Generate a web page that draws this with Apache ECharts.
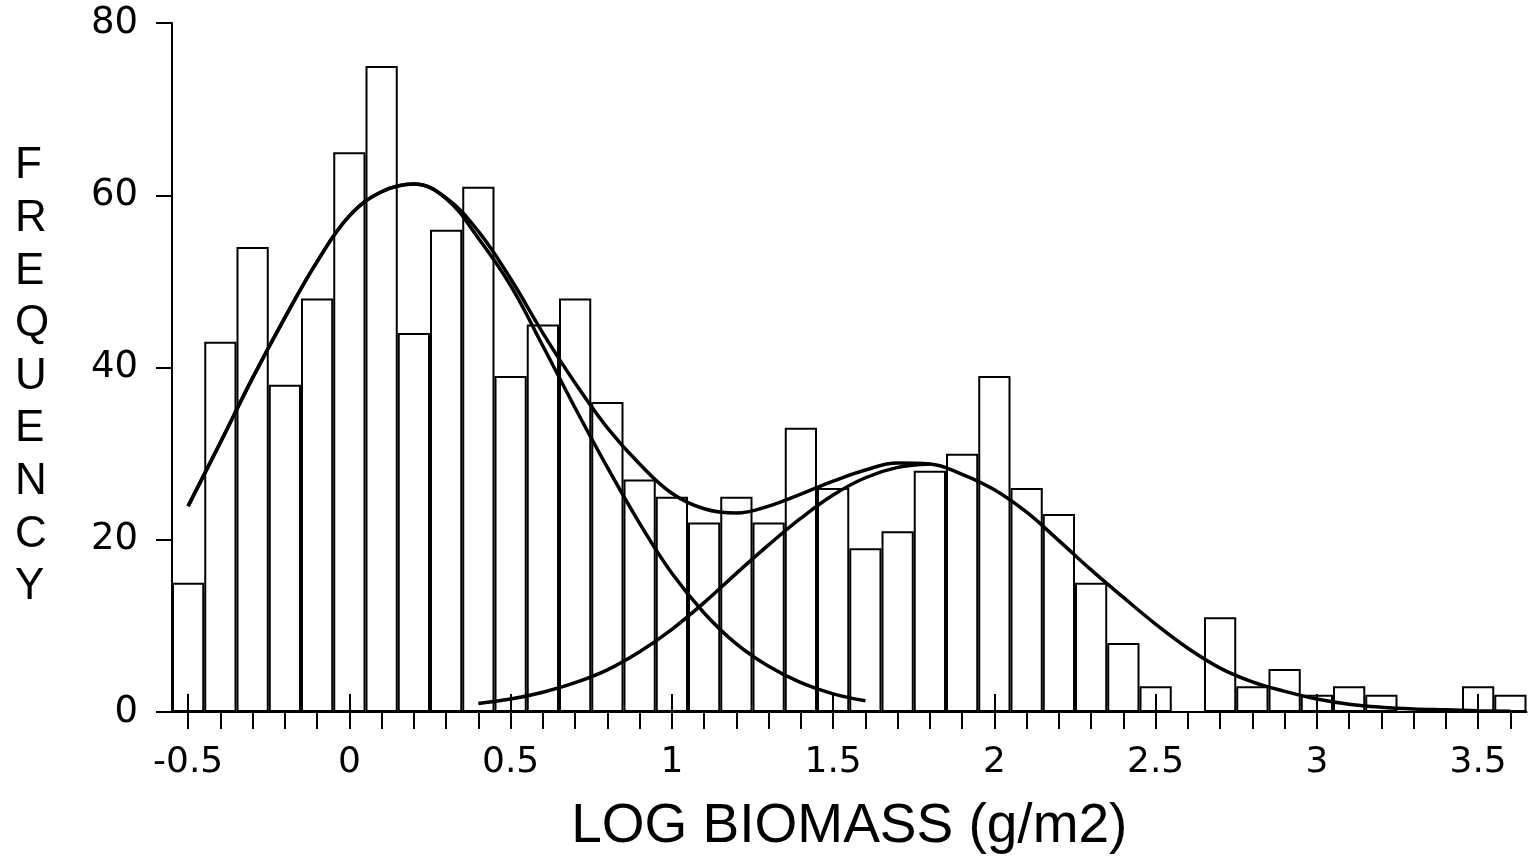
<!DOCTYPE html>
<html>
<head>
	<meta charset="utf-8">
	<title>Log biomass frequency</title>
	<script src="https://cdn.jsdelivr.net/npm/echarts@6/dist/echarts.min.js"></script>
	<style>
		html, body { margin: 0; padding: 0; background: #fff; }
		#chart { width: 1529px; height: 859px; }
	</style>
</head>
<body>
	<div id="chart"></div>
	<script>
		// bin centres of the histogram (log biomass, step 0.1)
		var binCenters = ['-0.5', '-0.4', '-0.3', '-0.2', '-0.1', '0', '0.1', '0.2', '0.3', '0.4',
			'0.5', '0.6', '0.7', '0.8', '0.9', '1', '1.1', '1.2', '1.3', '1.4',
			'1.5', '1.6', '1.7', '1.8', '1.9', '2', '2.1', '2.2', '2.3', '2.4',
			'2.5', '2.6', '2.7', '2.8', '2.9', '3', '3.1', '3.2', '3.3', '3.4', '3.5', '3.6'];
		var counts = [15, 43, 54, 38, 48, 65, 75, 44, 56, 61,
			39, 45, 48, 36, 27, 25, 22, 25, 22, 33,
			26, 19, 21, 28, 30, 39, 26, 23, 15, 8,
			3, 0, 11, 3, 5, 2, 3, 2, 0, 0, 3, 2];

		// fitted curves
		var curveX = [-0.5, -0.4, -0.3, -0.2, -0.1, 0, 0.1, 0.2, 0.3, 0.4,
			0.5, 0.6, 0.7, 0.8, 0.9, 1.0, 1.1, 1.2, 1.3, 1.4,
			1.5, 1.6, 1.7, 1.8, 1.9, 2.0, 2.1, 2.2, 2.3, 2.4,
			2.5, 2.6, 2.7, 2.8, 2.9, 3.0, 3.1, 3.2, 3.3, 3.4, 3.5, 3.6];
		var lowMode = [23.9, 31.3, 38.8, 45.8, 52.3, 57.6, 60.4, 61.3, 59.6, 55.0,
			49.5, 42.5, 35.3, 28.4, 21.9, 16.1, 11.5, 7.9, 5.3, 3.4, 2.1, 1.3];
		var highModeX = [0.4, 0.5, 0.6, 0.7, 0.8, 0.9, 1.0, 1.1, 1.2, 1.3, 1.4, 1.5, 1.6, 1.7, 1.8];
		var highMode = [1.0, 1.5, 2.3, 3.4, 4.9, 7.0, 9.6, 12.7, 16.1, 19.4, 22.5, 25.2, 27.2, 28.4, 28.8];
		var mixture = [23.9, 31.3, 38.8, 45.8, 52.3, 57.6, 60.4, 61.3, 59.7, 55.8,
			50.3, 44.0, 38.2, 33.0, 28.8, 25.4, 23.6, 23.1, 23.9, 25.3,
			26.8, 28.1, 28.9, 28.8, 27.6, 25.8, 23.2, 19.9, 16.5, 13.3,
			10.2, 7.4, 5.1, 3.5, 2.4, 1.5, 0.9, 0.55, 0.35, 0.25, 0.15, 0.1];
		var yTicks = [0, 20, 40, 60, 80];

		function pairs(xs, ys) {
			return ys.map(function(y, i) {
				return [xs[i], y];
			});
		}

		var font = 'Liberation Sans';
		var tickFont = 'DejaVu Sans';
		var tickLine = { color: '#000', width: 2 };
		var curveStyle = {
			color: '#000',
			width: 3.5
		};

		var myChart = echarts.init(document.getElementById('chart'));
		myChart.setOption({
			animation: false,
			backgroundColor: '#fff',
			grid: {
				left: 172,
				top: 23,
				right: 2.5,
				bottom: 146
			},
			graphic: [{
				type: 'text',
				left: 15,
				top: 140,
				style: {
					text: 'F\nR\nE\nQ\nU\nE\nN\nC\nY',
					font: '44px "' + font + '"',
					lineHeight: 52.6,
					align: 'center',
					fill: '#000'
				}
			}],
			xAxis: [{
					type: 'category',
					data: binCenters,
					boundaryGap: true,
					position: 'bottom',
					axisLine: {
						show: true,
						onZero: false,
						lineStyle: tickLine
					},
					axisTick: {
						show: true,
						alignWithLabel: true,
						interval: 0,
						length: 17,
						lineStyle: tickLine
					},
					axisLabel: {
						interval: 4,
						margin: 33,
						fontSize: 36,
						fontFamily: tickFont,
						color: '#000'
					},
					splitLine: { show: false },
					name: 'LOG BIOMASS (g/m2)',
					nameLocation: 'middle',
					nameGap: 87,
					nameTextStyle: {
						fontSize: 55,
						fontFamily: font,
						color: '#000'
					}
				},
				{
					// every 0.5 the tick also runs up above the axis line
					type: 'category',
					data: binCenters,
					boundaryGap: true,
					position: 'bottom',
					z: 10,
					axisLine: { show: false, onZero: false },
					axisTick: {
						show: true,
						inside: true,
						alignWithLabel: true,
						interval: 4,
						length: 18,
						lineStyle: tickLine
					},
					axisLabel: { show: false, interval: 4 },
					splitLine: { show: false }
				},
				{
					type: 'value',
					min: -0.55,
					max: 3.65,
					show: false
				}
			],
			yAxis: {
				type: 'value',
				min: yTicks[0],
				max: yTicks[yTicks.length - 1],
				interval: 20,
				axisLine: {
					show: true,
					onZero: false,
					lineStyle: tickLine
				},
				axisTick: {
					show: true,
					length: 16,
					lineStyle: tickLine
				},
				axisLabel: {
					margin: 34,
					fontSize: 37,
					fontFamily: tickFont,
					color: '#000'
				},
				splitLine: { show: false }
			},
			series: [{
					name: 'Frequency',
					type: 'bar',
					xAxisIndex: 0,
					data: counts,
					barCategoryGap: '0%',
					itemStyle: {
						color: '#fff',
						borderColor: '#000',
						borderWidth: 2
					},
					z: 2
				},
				{
					name: 'Low mode',
					type: 'line',
					xAxisIndex: 2,
					data: pairs(curveX, lowMode),
					smooth: 0.4,
					showSymbol: false,
					lineStyle: curveStyle,
					z: 3
				},
				{
					name: 'High mode',
					type: 'line',
					xAxisIndex: 2,
					data: pairs(highModeX, highMode),
					smooth: 0.4,
					showSymbol: false,
					lineStyle: curveStyle,
					z: 3
				},
				{
					name: 'Mixture',
					type: 'line',
					xAxisIndex: 2,
					data: pairs(curveX, mixture),
					smooth: 0.4,
					showSymbol: false,
					lineStyle: curveStyle,
					z: 3
				}
			]
		});
	</script>
</body>
</html>
